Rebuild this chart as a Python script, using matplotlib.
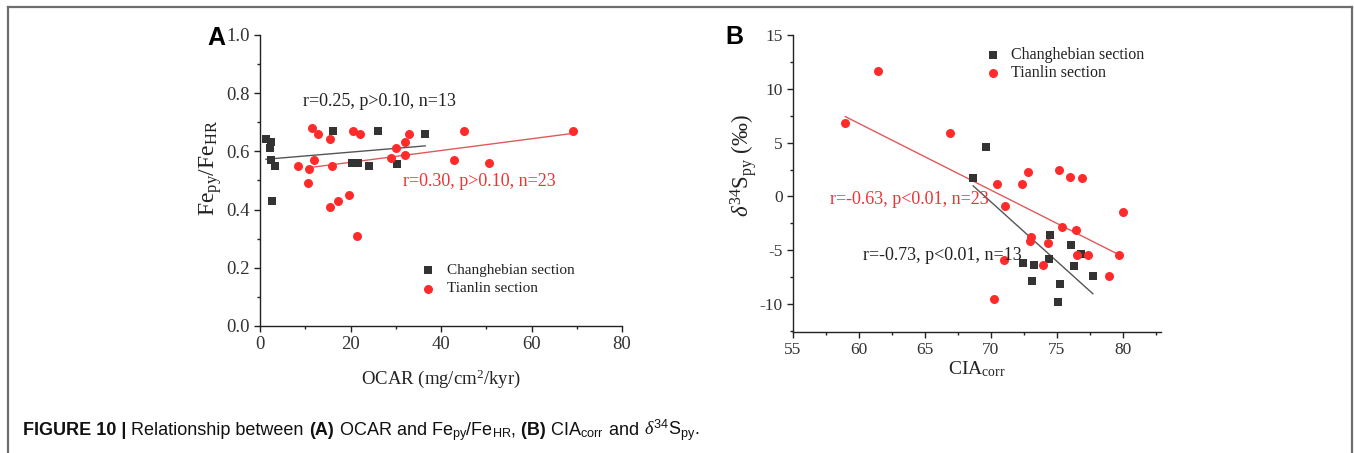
import matplotlib
matplotlib.use("Agg")
import matplotlib.pyplot as plt
from matplotlib.ticker import MultipleLocator, FormatStrFormatter
from matplotlib.lines import Line2D

plt.rcParams['font.family'] = ['Liberation Serif', 'DejaVu Serif']
plt.rcParams['mathtext.fontset'] = 'custom'
plt.rcParams['mathtext.rm'] = 'Liberation Serif'
plt.rcParams['mathtext.it'] = 'Liberation Serif:italic'
plt.rcParams['mathtext.bf'] = 'Liberation Serif:bold'
plt.rcParams['axes.unicode_minus'] = False

# ---------------- Data: panel A (OCAR vs Fepy/FeHR) ----------------
a_chb_x = [1.3, 2.4, 2.2, 2.4, 3.3, 2.6, 16.2, 26.0, 36.5, 20.3, 21.6, 24.0, 30.2]
a_chb_y = [0.642, 0.631, 0.61, 0.57, 0.549, 0.429, 0.67, 0.67, 0.66, 0.561, 0.561, 0.549, 0.558]
a_tl_x = [8.3, 10.8, 10.6, 11.6, 12.0, 12.8, 15.5, 15.9, 15.5, 17.2, 19.7, 20.5, 22.1,
          21.4, 29.0, 30.0, 32.1, 32.1, 33.0, 42.8, 45.0, 50.7, 69.2]
a_tl_y = [0.549, 0.541, 0.49, 0.679, 0.57, 0.66, 0.641, 0.549, 0.409, 0.429, 0.45, 0.67, 0.66,
          0.31, 0.579, 0.61, 0.631, 0.589, 0.66, 0.57, 0.67, 0.561, 0.67]
a_fit_chb_x = [1.3, 36.5]
a_fit_chb_y = [0.573, 0.619]
a_fit_tl_x = [10.8, 69.2]
a_fit_tl_y = [0.544, 0.662]

# ---------------- Data: panel B (CIAcorr vs d34S) ----------------
b_chb_x = [68.66, 69.67, 72.44, 73.25, 73.14, 74.45, 74.40, 76.04, 76.30, 76.80, 77.73, 75.21, 75.09]
b_chb_y = [1.70, 4.63, -6.19, -6.41, -7.90, -3.60, -5.79, -4.49, -6.50, -5.36, -7.37, -8.11, -9.81]
b_tl_x = [58.96, 61.48, 66.9, 70.5, 71.05, 72.82, 72.36, 73.02, 72.94, 74.33, 73.95, 70.98,
          70.22, 75.14, 75.97, 76.93, 75.39, 76.42, 76.52, 77.35, 79.70, 80.0, 78.99]
b_tl_y = [6.80, 11.69, 5.93, 1.11, -0.87, 2.31, 1.11, -3.78, -4.18, -4.34, -6.41, -5.88,
          -9.54, 2.41, 1.85, 1.70, -2.88, -3.10, -5.45, -5.45, -5.42, -1.46, -7.37]
b_fit_chb_x = [68.66, 77.73]
b_fit_chb_y = [0.98, -9.04]
b_fit_tl_x = [58.96, 79.62]
b_fit_tl_y = [7.42, -5.36]

SQ = '#333333'
RD = '#ff2a2a'
RL = '#e05a5a'
GL = '#555555'

fig = plt.figure(figsize=(13.54, 4.53), dpi=100)

# frame
fc = '#6e6e6e'
yt = 1 - 6.5/453
fig.add_artist(Line2D([8/1354, 8/1354], [0, yt], transform=fig.transFigure, color=fc, lw=1.6))
fig.add_artist(Line2D([8/1354, 1352/1354], [yt, yt], transform=fig.transFigure, color=fc, lw=1.6))
fig.add_artist(Line2D([1352/1354, 1352/1354], [0, yt], transform=fig.transFigure, color=fc, lw=1.6))


def style(ax, ls):
    for s in ['top', 'right']:
        ax.spines[s].set_visible(False)
    for s in ['left', 'bottom']:
        ax.spines[s].set_linewidth(1.0)
        ax.spines[s].set_color('#222222')
    ax.tick_params(which='major', direction='out', length=4, width=1, labelsize=ls, colors='#222222',
                   labelcolor='#333333')
    ax.tick_params(which='minor', direction='out', length=2, width=1, colors='#222222')


axA = fig.add_axes([260/1354, 1-326/453, (622-260)/1354, (326-35)/453])
style(axA, 13.5)
axA.set_xlim(0, 80)
axA.set_ylim(0, 1.0)
axA.xaxis.set_major_locator(MultipleLocator(20))
axA.xaxis.set_minor_locator(MultipleLocator(10))
axA.yaxis.set_major_locator(MultipleLocator(0.2))
axA.yaxis.set_minor_locator(MultipleLocator(0.1))
axA.yaxis.set_major_formatter(FormatStrFormatter('%.1f'))
axA.plot(a_fit_chb_x, a_fit_chb_y, color=GL, lw=1.0, zorder=2)
axA.plot(a_fit_tl_x, a_fit_tl_y, color=RL, lw=1.0, zorder=2)
axA.scatter(a_chb_x, a_chb_y, marker='s', s=34, color=SQ, zorder=3, linewidths=0)
axA.scatter(a_tl_x, a_tl_y, marker='o', s=42, color=RD, zorder=3, linewidths=0)
axA.text(9.6, 0.771, 'r=0.25, p>0.10, n=13', fontsize=13, color='#222222', va='center', ha='left')
axA.text(31.6, 0.495, 'r=0.30, p>0.10, n=23', fontsize=13, color='#ee3333', va='center', ha='left')
axA.scatter([37.2], [0.192], marker='s', s=34, color=SQ, linewidths=0, clip_on=False)
axA.scatter([37.2], [0.128], marker='o', s=42, color=RD, linewidths=0, clip_on=False)
axA.text(41.3, 0.192, 'Changhebian section', fontsize=11, color='#222222', va='center')
axA.text(41.3, 0.128, 'Tianlin section', fontsize=11, color='#222222', va='center')
axA.set_xlabel('OCAR (mg/cm$^{2}$/kyr)', fontsize=13.5, color='#222222')
axA.xaxis.set_label_coords(0.5, -(367-326)/291)
axA.set_ylabel('Fe$_{\\mathrm{py}}$/Fe$_{\\mathrm{HR}}$', fontsize=17, color='#222222')
axA.yaxis.set_label_coords(-(260-224)/362, (326-168)/291)
fig.text(216/1354, 1-38/453, 'A', fontsize=18, fontweight='bold', family='Liberation Sans',
         ha='center', va='center')

axB = fig.add_axes([793/1354, 1-332/453, (1161-793)/1354, (332-35)/453])
style(axB, 12.5)
axB.set_xlim(55, 82.9)
axB.set_ylim(-12.6, 15)
axB.xaxis.set_major_locator(MultipleLocator(5))
axB.xaxis.set_minor_locator(MultipleLocator(2.5))
axB.yaxis.set_major_locator(MultipleLocator(5))
axB.yaxis.set_minor_locator(MultipleLocator(2.5))
axB.plot(b_fit_chb_x, b_fit_chb_y, color=GL, lw=1.0, zorder=2)
axB.plot(b_fit_tl_x, b_fit_tl_y, color=RL, lw=1.0, zorder=2)
axB.scatter(b_chb_x, b_chb_y, marker='s', s=34, color=SQ, zorder=3, linewidths=0)
axB.scatter(b_tl_x, b_tl_y, marker='o', s=42, color=RD, zorder=3, linewidths=0)
axB.text(57.8, -0.32, 'r=-0.63, p<0.01, n=23', fontsize=13, color='#ee3333', va='center', ha='left')
axB.text(60.3, -5.51, 'r=-0.73, p<0.01, n=13', fontsize=13, color='#222222', va='center', ha='left')
axB.scatter([70.17], [13.14], marker='s', s=34, color=SQ, linewidths=0, clip_on=False)
axB.scatter([70.17], [11.44], marker='o', s=42, color=RD, linewidths=0, clip_on=False)
axB.text(71.56, 13.14, 'Changhebian section', fontsize=11.5, color='#222222', va='center')
axB.text(71.56, 11.44, 'Tianlin section', fontsize=11.5, color='#222222', va='center')
axB.set_xlabel('CIA$_{\\mathrm{corr}}$', fontsize=14, color='#222222')
axB.xaxis.set_label_coords(0.5, -(359-332)/297)
axB.set_ylabel('$\\delta^{34}$S$_{\\mathrm{py}}$ (‰)', fontsize=16.5, color='#222222')
axB.yaxis.set_label_coords(-(793-759)/368, (332-165)/297)
fig.text(734/1354, 1-37/453, 'B', fontsize=18, fontweight='bold', family='Liberation Sans',
         ha='center', va='center')

# caption, built piece by piece
pieces = [
    ('FIGURE 10 | ', 'bold'),
    ('Relationship between ', 'normal'),
    ('(A)', 'bold'),
    (' OCAR and Fe$_{\\mathregular{py}}$/Fe$_{\\mathregular{HR}}$,', 'normal'),
    (' (B)', 'bold'),
    (' CIA$_{\\mathregular{corr}}$', 'normal'),
    (' and ', 'normal'),
    ('$\\mathit{\\delta}^{\\mathregular{34}}$S$_{\\mathregular{py}}$.', 'normal'),
]
renderer = fig.canvas.get_renderer()
x = 23
ycap = 1 - 435/453
for txt, w in pieces:
    t = fig.text(x/1354, ycap, txt, fontsize=13, fontweight=w, family='Liberation Sans',
                 ha='left', va='baseline', color='#111111')
    bb = t.get_window_extent(renderer=renderer)
    x = bb.x1

fig.savefig('out.png', dpi=100)
